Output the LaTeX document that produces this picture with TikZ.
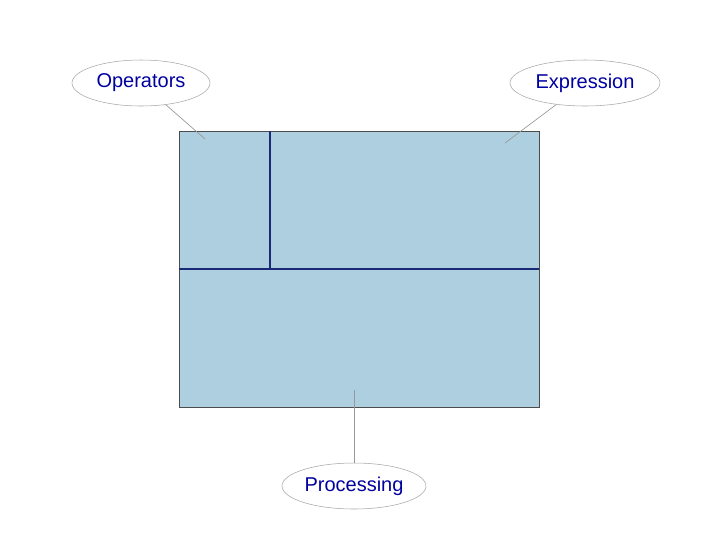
\documentclass[tikz,border=0pt]{standalone}
\usepackage{fontspec}
\setmainfont{Liberation Sans}
\usetikzlibrary{shapes.geometric}
\definecolor{boxfill}{HTML}{AECFDF}
\definecolor{navy}{HTML}{1A2A78}
\definecolor{txt}{HTML}{0000A0}
\begin{document}
\begin{tikzpicture}[x=0.75pt,y=-0.75pt,
  callout/.style={ellipse,draw=gray!70,fill=white,minimum width=#1*0.75pt,minimum height=34.5pt,inner sep=0pt,text=txt,font=\fontsize{15pt}{17pt}\selectfont},
  lead/.style={draw=gray!80,line width=0.5pt}]
\useasboundingbox (0,0) rectangle (720,540);
\draw[fill=boxfill,draw=black!70,line width=0.5pt] (179,131) rectangle (539,407);
\draw[navy,line width=1.5pt] (270,131) -- (270,269);
\draw[navy,line width=1.5pt] (179,269) -- (539,269);
\node[callout=138] (op) at (141,83) {Operators};
\node[callout=150] (ex) at (585,83) {Expression};
\node[callout=144] (pr) at (354,486) {Processing};
\coordinate (a) at (205,139);
\coordinate (b) at (505,143);
\coordinate (c) at (354,390);
\draw[lead] (op) -- (a);
\draw[lead] (ex) -- (b);
\draw[lead] (pr) -- (c);
\end{tikzpicture}
\end{document}
